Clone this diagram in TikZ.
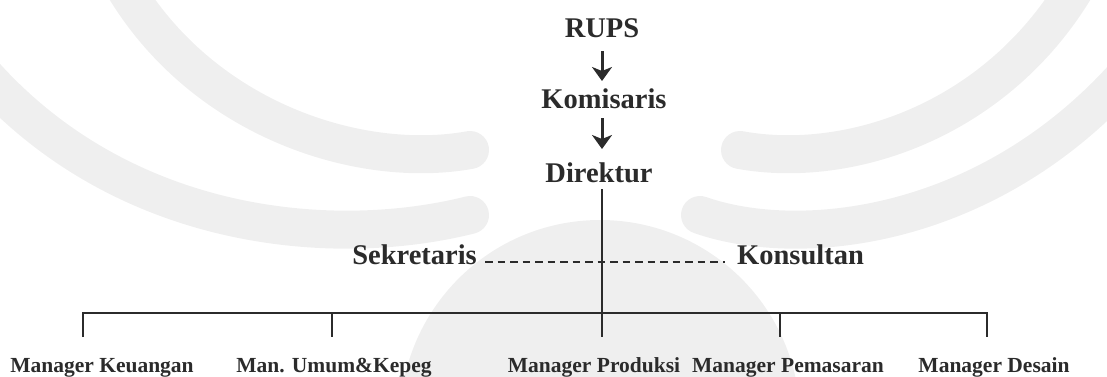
\documentclass[tikz,border=0pt]{standalone}
\usepackage{fontspec}
\setmainfont{Liberation Serif}
\usetikzlibrary{arrows.meta}
\definecolor{ink}{HTML}{2B2B2B}
\definecolor{wm}{HTML}{EFEFEF}
\tikzset{
  top/.style={font=\fontsize{28.5}{30}\selectfont\bfseries, text=ink, inner sep=0pt, anchor=base},
  side/.style={font=\fontsize{28.5}{30}\selectfont\bfseries, text=ink, inner sep=0pt},
  lab/.style={font=\fontsize{21.5}{23}\selectfont\bfseries, text=ink, inner sep=0pt, anchor=base},
  arr/.style={draw=ink, line width=3pt, -{Stealth[length=14pt,width=20pt,inset=4pt]}},
  org/.style={draw=ink, line width=1.8pt},
  dsh/.style={draw=ink, line width=1.5pt, dash pattern=on 7.5pt off 5pt},
  wmk/.style={draw=wm, line width=38pt, line cap=round}
}
\begin{document}
\begin{tikzpicture}[x=1pt,y=-1pt]
\useasboundingbox (0,0) rectangle (1107,376);
% faint watermark
\fill[wm] (600,420) circle (200);
\draw[wmk] (120,-20) .. controls (200,120) and (360,170) .. (470,150);
\draw[wmk] (-20,70) .. controls (120,230) and (330,250) .. (470,215);
\draw[wmk] (1080,-20) .. controls (1000,120) and (850,170) .. (740,150);
\draw[wmk] (1130,70) .. controls (990,230) and (800,250) .. (700,215);
% top chain
\node[top] (rups) at (602,37) {RUPS};
\node[top] (kom) at (604,108) {Komisaris};
\node[top] (dir) at (599,182) {Direktur};
\coordinate (a1s) at (602,51);
\coordinate (a1e) at (602,81);
\coordinate (a2s) at (602,118);
\coordinate (a2e) at (602,149);
\draw[arr] (a1s) -- (a1e);
\draw[arr] (a2s) -- (a2e);
% staff
\node[side, anchor=base east] (sek) at (477,264) {Sekretaris};
\node[side, anchor=base west] (kon) at (737,264) {Konsultan};
\coordinate (dtop) at (602,189);
\draw[dsh] ([xshift=8pt,yshift=2pt]sek.base east) -- ([xshift=-12pt,yshift=2pt]kon.base west);
% bottom bar
\coordinate (b1) at (83,313);
\coordinate (b2) at (332,313);
\coordinate (b4) at (780,313);
\coordinate (b5) at (987,313);
\coordinate (e1) at (83,337);
\coordinate (e2) at (332,337);
\coordinate (e3) at (602,337);
\coordinate (e4) at (780,337);
\coordinate (e5) at (987,337);
\draw[org, line width=2.2pt] (dtop) -- (e3);
\draw[org] (e1) -- (b1) -- (b5) -- (e5);
\draw[org] (b2) -- (e2);
\draw[org] (b4) -- (e4);
% managers
\node[lab] (m1) at (102,372) {Manager Keuangan};
\node[lab] (m2) at (334,372) {Man. Umum\&Kepeg};
\node[lab] (m3) at (594,372) {Manager Produksi};
\node[lab] (m4) at (788,372) {Manager Pemasaran};
\node[lab] (m5) at (994,372) {Manager Desain};
\end{tikzpicture}
\end{document}
